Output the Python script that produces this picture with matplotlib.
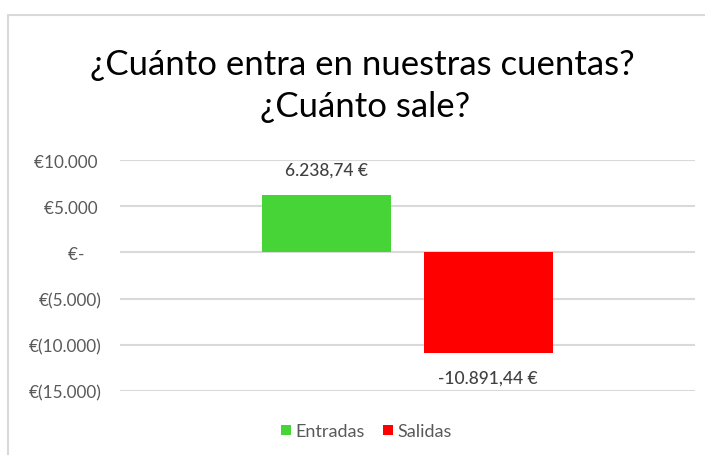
import matplotlib.pyplot as plt
from matplotlib.patches import Rectangle

plt.rcParams['font.family'] = ['Lato', 'DejaVu Sans']

# datos
series = ['Entradas', 'Salidas']
valores = [6238.74, -10891.44]
colores = ['#47d437', '#ff0000']
yticks = [10000, 5000, 0, -5000, -10000, -15000]
ytick_labels = ['€10.000 ', '€5.000 ', '€-    ', '€(5.000)', '€(10.000)', '€(15.000)']
titulo = ['¿Cuánto entra en nuestras cuentas?', '¿Cuánto sale?']


def formato_euro(v):
    s = '{:,.2f}'.format(v)
    s = s.replace(',', 'X').replace('.', ',').replace('X', '.')
    return s + ' €'


fig = plt.figure(figsize=(7.05, 4.56), dpi=100)

# marco del grafico
fig.patches.append(Rectangle((7.5 / 705, -0.2), 1.2, 1 - 16 / 456 + 0.2,
                             transform=fig.transFigure, fill=False,
                             edgecolor='#d9d9d9', linewidth=1.5))

ax = fig.add_axes([120 / 705, 1 - 392 / 456, 575 / 705, 231 / 456])

offsets = [-0.1405, 0.1405]
for i in range(len(series)):
    ax.bar(offsets[i], valores[i], width=0.224, color=colores[i],
           label=series[i], zorder=3)
    if valores[i] >= 0:
        ax.annotate(formato_euro(valores[i]), (offsets[i], valores[i]),
                    xytext=(0, 12), textcoords='offset points',
                    ha='center', va='bottom', fontsize=12.5,
                    color='#404040', fontweight='medium')
    else:
        ax.annotate(formato_euro(valores[i]), (offsets[i], valores[i]),
                    xytext=(0, -12), textcoords='offset points',
                    ha='center', va='top', fontsize=12.5,
                    color='#404040', fontweight='medium')

ax.set_xlim(-0.5, 0.5)
ax.set_ylim(-15000, 10000)
ax.set_yticks(yticks)
ax.set_yticklabels(ytick_labels, fontsize=12.3, color='#595959')
ax.set_xticks([])
ax.tick_params(axis='y', length=0, pad=13)
ax.grid(axis='y', color='#d9d9d9', linewidth=1.5, zorder=0)
for s in ax.spines.values():
    s.set_visible(False)

ax.legend(loc='center', bbox_to_anchor=(0.428, -0.175), ncol=2, frameon=False,
          fontsize=13, handlelength=0.55, handleheight=0.55, handletextpad=0.25,
          columnspacing=1.0, labelcolor='#595959')

fig.text(362 / 705, 1 - 65 / 456, titulo[0], ha='center', va='center',
         fontsize=25, color='black')
fig.text(365 / 705, 1 - 107 / 456, titulo[1], ha='center', va='center',
         fontsize=25, color='black')

plt.savefig('out.png', dpi=100)
